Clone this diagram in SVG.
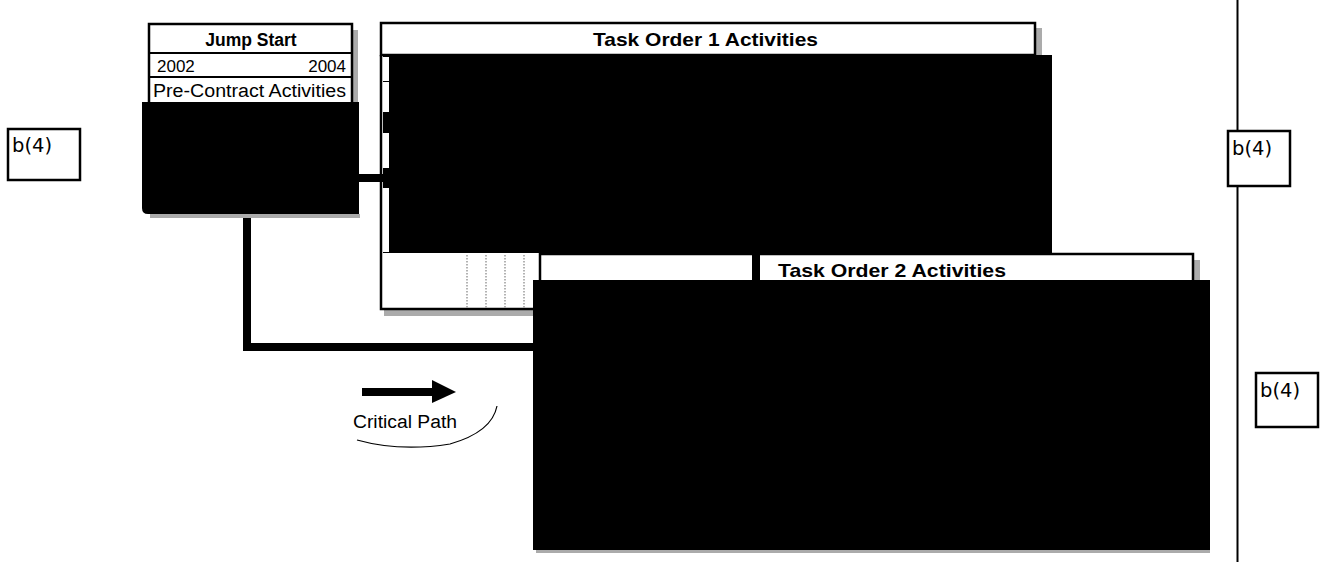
<svg xmlns="http://www.w3.org/2000/svg" width="1322" height="562" viewBox="0 0 1322 562">
  <style>
    .box { fill: #fff; stroke: #000; stroke-width: 2.5; }
    .redact { fill: #000; }
    .shadow { fill: #ababab; }
    .hdr { font-family: "Liberation Sans", Arial, sans-serif; font-weight: bold; fill: #000; }
    .txt { font-family: "Liberation Sans", Arial, sans-serif; fill: #000; }
    .code { font-family: "DejaVu Sans", Verdana, sans-serif; fill: #000; font-size: 19.5px; }
    .tag { fill: #fff; stroke: #000; stroke-width: 2.5; }
    .dots { stroke: #8a8a8a; stroke-width: 1.3; stroke-dasharray: 1.5 1.5; }
  </style>

  <rect width="1322" height="562" fill="#fff"/>

  <!-- right-hand divider line -->
  <line x1="1237.5" y1="0" x2="1237.5" y2="562" stroke="#000" stroke-width="2"/>

  <!-- connectors -->
  <g id="connectors" fill="none" stroke="#000" stroke-width="8" stroke-linejoin="miter">
    <line x1="356" y1="178" x2="390" y2="178"/>
    <polyline points="247,212 247,347 540,347"/>
  </g>

  <!-- Jump Start block -->
  <g id="jump-start">
    <rect class="shadow" x="352" y="30" width="6" height="74"/>
    <rect class="shadow" x="150" y="214" width="210" height="4"/>
    <rect class="box" x="149" y="24" width="203" height="80"/>
    <line x1="149" y1="53" x2="352" y2="53" stroke="#000" stroke-width="2"/>
    <line x1="149" y1="77" x2="352" y2="77" stroke="#000" stroke-width="2"/>
    <text class="hdr" x="251" y="46" font-size="17.5" text-anchor="middle">Jump Start</text>
    <text class="txt" x="157" y="72" font-size="17">2002</text>
    <text class="txt" x="346" y="72" font-size="17" text-anchor="end">2004</text>
    <text class="txt" x="153" y="97" font-size="18" textLength="193" lengthAdjust="spacingAndGlyphs">Pre-Contract Activities</text>
    <path class="redact" d="M142,102 H359 V214 H148 Q142,214 142,208 Z"/>
  </g>

  <!-- Task Order 1 block -->
  <g id="task-order-1">
    <rect class="shadow" x="1035" y="28" width="7" height="28"/>
    <rect class="shadow" x="384" y="310" width="152" height="6"/>
    <rect class="box" x="381" y="23" width="654" height="32"/>
    <polyline points="381,55 381,309 540,309" fill="none" stroke="#000" stroke-width="2.5"/>
    <text class="hdr" x="593" y="46" font-size="19" textLength="225" lengthAdjust="spacingAndGlyphs">Task Order 1 Activities</text>
    <!-- row cells along the left edge -->
    <rect class="redact" x="383" y="55" width="6" height="198"/>
    <rect fill="#fff" x="383" y="57" width="6" height="24"/>
    <rect fill="#fff" x="383" y="82" width="6" height="30"/>
    <rect fill="#fff" x="383" y="133" width="6" height="35"/>
    <rect fill="#fff" x="383" y="188" width="6" height="64"/>
    <rect class="redact" x="389" y="55" width="663" height="198"/>
    <!-- timeline gridlines -->
    <line class="dots" x1="467" y1="255" x2="467" y2="309"/>
    <line class="dots" x1="486" y1="255" x2="486" y2="309"/>
    <line class="dots" x1="505" y1="255" x2="505" y2="309"/>
    <line class="dots" x1="524" y1="255" x2="524" y2="309"/>
  </g>

  <!-- Task Order 2 block -->
  <g id="task-order-2">
    <rect class="shadow" x="1193" y="260" width="7" height="22"/>
    <rect class="shadow" x="536" y="550" width="674" height="3"/>
    <rect class="box" x="540" y="254" width="653" height="28"/>
    <rect class="redact" x="752" y="253" width="8" height="29"/>
    <text class="hdr" x="778" y="277" font-size="19" textLength="228" lengthAdjust="spacingAndGlyphs">Task Order 2 Activities</text>
    <rect class="redact" x="533" y="280" width="677" height="270"/>
  </g>

  <!-- withheld-content tags -->
  <g id="b4-left">
    <rect class="tag" x="8" y="129" width="72" height="51"/>
    <text class="code" x="12" y="152">b(4)</text>
  </g>
  <g id="b4-right-1">
    <rect class="tag" x="1228" y="131" width="62" height="55"/>
    <text class="code" x="1232" y="155">b(4)</text>
  </g>
  <g id="b4-right-2">
    <rect class="tag" x="1256" y="373" width="62" height="54"/>
    <text class="code" x="1260" y="397">b(4)</text>
  </g>

  <!-- legend -->
  <g id="legend-critical-path">
    <rect x="362" y="388" width="72" height="8" fill="#000"/>
    <polygon points="432,380 456,392 432,403" fill="#000"/>
    <text class="txt" x="353" y="428" font-size="18" textLength="104" lengthAdjust="spacingAndGlyphs">Critical Path</text>
    <path d="M357,440 Q400,452 450,444 Q492,432 497,406" fill="none" stroke="#000" stroke-width="1.2"/>
  </g>
</svg>
